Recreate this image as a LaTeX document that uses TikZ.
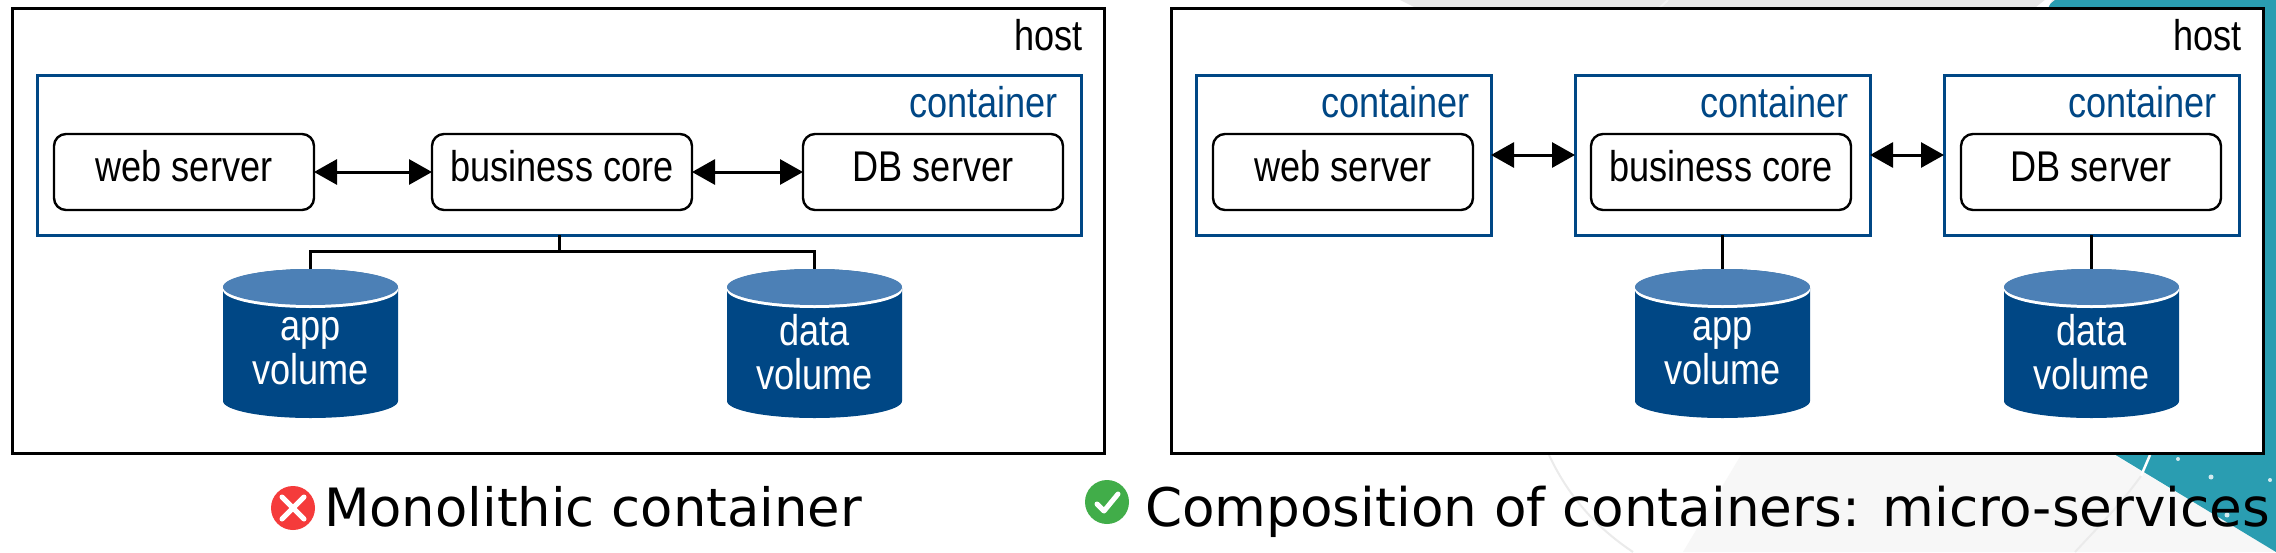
\documentclass[tikz,border=0pt]{standalone}
\usepackage{fontspec}
\setmainfont{Liberation Sans}
\newfontfamily\boxfont[FakeStretch=0.84]{Liberation Sans}
\newfontfamily\capfont{DejaVu Sans}
\usetikzlibrary{arrows.meta,calc}
\definecolor{cblue}{HTML}{004785}
\definecolor{ctop}{HTML}{4C80B6}
\definecolor{teal}{HTML}{2A9DB1}
\definecolor{badred}{HTML}{F53B3B}
\definecolor{goodgreen}{HTML}{41AD49}
\tikzset{
  x=1pt,y=-1pt,
  every node/.style={outer sep=0pt},
  hostbox/.style={draw=black,line width=3pt,fill=white,anchor=north west,inner sep=0pt,minimum height=445pt},
  contbox/.style={draw=cblue,line width=3pt,fill=white,anchor=north west,inner sep=0pt,minimum height=160pt},
  svcbox/.style={draw=black,line width=2.4pt,fill=white,rounded corners=12pt,anchor=north west,inner sep=0pt,
     minimum width=260pt,minimum height=76pt,text height=47pt,text depth=29pt,font=\boxfont\fontsize{43}{45}\selectfont},
  hostlabel/.style={anchor=base east,inner sep=0pt,font=\boxfont\fontsize{43}{45}\selectfont},
  contlabel/.style={anchor=base east,inner sep=0pt,text=cblue,font=\boxfont\fontsize{43}{45}\selectfont},
  vollabel/.style={align=center,inner sep=0pt,text=white,font=\boxfont\fontsize{43}{44}\selectfont},
  volanchor/.style={inner sep=0pt,minimum width=175pt,minimum height=149pt,anchor=north west},
  link/.style={draw=black,line width=3pt,{Triangle[length=23pt,width=25pt]}-{Triangle[length=23pt,width=25pt]}},
  wire/.style={draw=black,line width=3pt},
  caption/.style={anchor=base west,inner sep=0pt,font=\capfont\selectfont},
}
\newcommand{\vessel}[2]{%
  \node[volanchor] (#1) at (#2,269) {};
  \fill[cblue] (#2,288) -- (#2,401) arc[start angle=180,end angle=360,x radius=87.5,y radius=-17]
     -- (#2+175,288) arc[start angle=0,end angle=180,x radius=87.5,y radius=-19] -- cycle;
  \fill[white] (#2+87.5,290) ellipse[x radius=87.5,y radius=18];
  \fill[ctop] (#2+87.5,287) ellipse[x radius=87.5,y radius=18];
}
\begin{document}
\begin{tikzpicture}
\useasboundingbox (0,0) rectangle (2276,552);
\fill[white] (0,0) rectangle (2276,552);
% backdrop
\fill[black!9] (1400,0) -- (1424,12) -- (2276,12) -- (2276,0) -- cycle;
\fill[black!3] (1741,455) -- (2114,455) -- (2276,552) -- (1683,552) -- cycle;
\fill[teal] (2055,0) -- (2276,0) -- (2276,552) -- (2114,454) -- (2040,12) -- cycle;
\fill[white] (2030,12) -- (2045,0) -- (2052,0) -- (2046,12) -- cycle;
\draw[black!5,line width=2pt] (1668,0) -- (1655,12);
\draw[black!8,line width=2pt] (1549,455) .. controls (1570,500) and (1600,530) .. (1633,552);
\draw[white,line width=2.5pt] (2150,455) -- (2141,476);
\draw[black!8,line width=2pt] (2141,476) .. controls (2120,505) and (2100,525) .. (2075,552);
\fill[white!80!teal] (2178,459) circle (2) (2211,477) circle (2.5) (2270,480) circle (2) (2227,515) circle (2.5);
% left host
\node[hostbox,minimum width=1092pt] (hostA) at (12,8) {};
\node[hostlabel] (hostAl) at (1083,50) {host};
\node[contbox,minimum width=1044pt] (mono) at (37,75) {};
\node[contlabel] (monol) at (1058,117) {container};
\node[svcbox] (webA) at (54,134) {web server};
\node[svcbox] (coreA) at (432,134) {business core};
\node[svcbox] (dbA) at (803,134) {DB server};
\draw[link] (webA.east) -- (coreA.west);
\draw[link] (coreA.east) -- (dbA.west);
\vessel{appA}{223}
\vessel{dataA}{727}
\coordinate (joint) at (mono.south |- 0,251);
\draw[wire] (mono.south) -- (joint);
\draw[wire] (appA.north) |- (joint) -| (dataA.north);
\node[vollabel] (appAl) at (310.5,351) {app\\volume};
\node[vollabel] (dataAl) at (814.5,352) {data\\volume};
% right host
\node[hostbox,minimum width=1092pt] (hostB) at (1171,8) {};
\node[hostlabel] (hostBl) at (2242,50) {host};
\node[contbox,minimum width=295pt] (cW) at (1196,75) {};
\node[contlabel] (cWl) at (1470,117) {container};
\node[contbox,minimum width=295pt] (cC) at (1575,75) {};
\node[contlabel] (cCl) at (1849,117) {container};
\node[contbox,minimum width=295pt] (cD) at (1944,75) {};
\node[contlabel] (cDl) at (2217,117) {container};
\node[svcbox] (webB) at (1213,134) {web server};
\node[svcbox] (coreB) at (1591,134) {business core};
\node[svcbox] (dbB) at (1961,134) {DB server};
\draw[link] (cW.east) -- (cC.west);
\draw[link] (cC.east) -- (cD.west);
\vessel{appB}{1635}
\vessel{dataB}{2004}
\draw[wire] (cC.south) -- (appB.north);
\draw[wire] (cD.south) -- (dataB.north);
\node[vollabel] (appBl) at (1722.5,351) {app\\volume};
\node[vollabel] (dataBl) at (2091.5,352) {data\\volume};
% captions
\node[circle,fill=badred,minimum size=44pt,inner sep=0pt] (bad) at (293,508) {};
\draw[white,line width=5pt,line cap=round] ($(bad)+(-11,-11)$) -- ($(bad)+(11,11)$) ($(bad)+(-11,11)$) -- ($(bad)+(11,-11)$);
\node[caption] (capA) at (324,526) {\fontsize{52.8}{56}\selectfont Monolithic container};
\node[circle,fill=goodgreen,minimum size=44pt,inner sep=0pt] (good) at (1107,502) {};
\draw[white,line width=5pt,line cap=round,line join=round] ($(good)+(-10,2)$) -- ($(good)+(-3,9)$) -- ($(good)+(11,-8)$);
\node[caption] (capB) at (1145,526) {\fontsize{53.2}{56}\selectfont Composition of containers: micro-services};
\end{tikzpicture}
\end{document}
